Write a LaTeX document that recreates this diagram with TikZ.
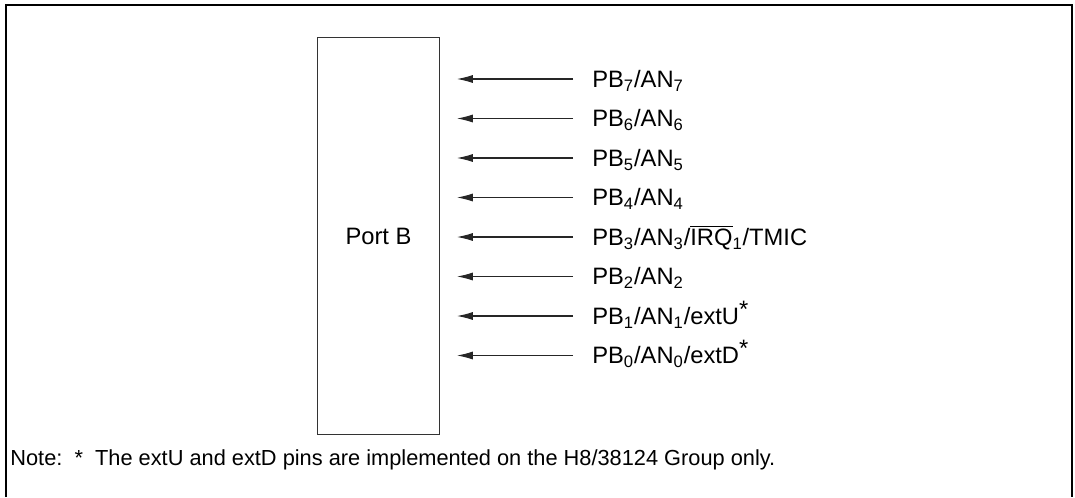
\documentclass[tikz,border=0pt]{standalone}
\usepackage{fontspec}
\setmainfont{Liberation Sans}
\usetikzlibrary{arrows.meta}

\begin{document}
\begin{tikzpicture}[
        x=0.02cm, y=-0.02cm,
        font=\fontsize{13.5}{16}\selectfont,
        % styles
        frame/.style={line width=1pt},
        portbox/.style={draw=black!80, line width=0.6pt, minimum width=2.44cm, minimum height=7.96cm, inner sep=0pt},
        pin/.style={anchor=base west, inner sep=0pt},
        inarrow/.style={draw=black!85, line width=0.6pt, -{Latex[length=9pt,width=4.6pt]}},
    ]
    \useasboundingbox (0,0) rectangle (1075,497);

    % frame (open at the bottom)
    \draw[frame] (6,497) -- (6,5) -- (1072,5) -- (1072,497);

    % port block
    \node[portbox] (port) at (378.5,236) {Port B};

    % pin names
    \node[pin] (pb7) at (592,87.3)  {PB\textsubscript{7}/AN\textsubscript{7}};
    \node[pin] (pb6) at (592,126.8) {PB\textsubscript{6}/AN\textsubscript{6}};
    \node[pin] (pb5) at (592,166.3) {PB\textsubscript{5}/AN\textsubscript{5}};
    \node[pin] (pb4) at (592,205.8) {PB\textsubscript{4}/AN\textsubscript{4}};
    \node[pin] (pb3) at (592,245.3) {PB\textsubscript{3}/AN\textsubscript{3}/$\overline{\mbox{IRQ}}$\textsubscript{1}/TMIC};
    \node[pin] (pb2) at (592,284.8) {PB\textsubscript{2}/AN\textsubscript{2}};
    \node[pin] (pb1) at (592,324.3) {PB\textsubscript{1}/AN\textsubscript{1}/extU\raisebox{0.3em}{*}};
    \node[pin] (pb0) at (592,363.8) {PB\textsubscript{0}/AN\textsubscript{0}/extD\raisebox{0.3em}{*}};

    % input arrows
    \foreach \p in {pb7,pb6,pb5,pb4,pb3,pb2,pb1,pb0}
        \draw[inarrow, shorten <=0.38cm, shorten >=0.34cm]
            ([yshift=8.3*0.02cm]\p.base west) -- ([yshift=8.3*0.02cm]port.east |- \p.base west);

    % footnote
    \node[pin, font=\fontsize{12.4}{15}\selectfont] (note) at (10,465) {Note:\ \ *\ \ The extU and extD pins are implemented on the H8/38124 Group only.};
\end{tikzpicture}
\end{document}
